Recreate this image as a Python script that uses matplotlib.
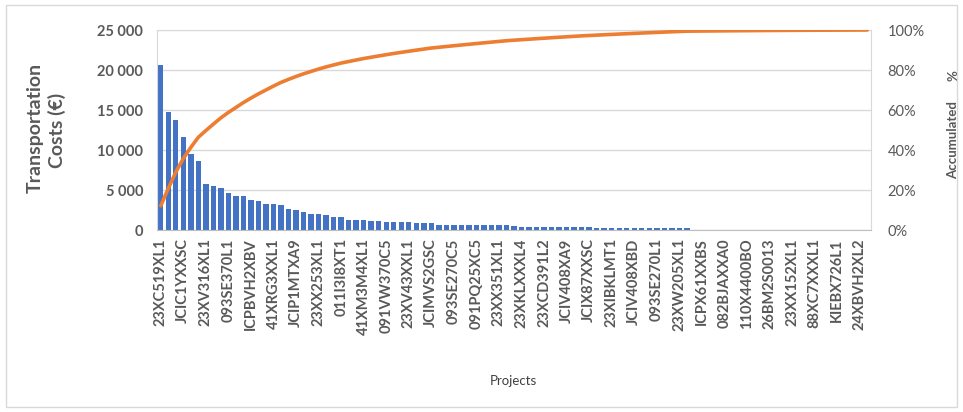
import numpy as np
import matplotlib
matplotlib.use("Agg")
import matplotlib.pyplot as plt
from matplotlib.patches import Rectangle

plt.rcParams['font.family'] = ['Lato', 'DejaVu Sans']

# Transportation cost per project (EUR), sorted descending
costs = [
    20600, 14700, 13800, 11600, 9500, 8600, 5700, 5500, 5300, 4600,
    4200, 4200, 3800, 3600, 3300, 3300, 3100,
    2600, 2450, 2250, 2050, 2000, 1850, 1650, 1600, 1300, 1300, 1250,
    1100, 1100, 1050, 1050,
    950, 950, 920, 900, 900,
    650, 650, 640, 630, 620, 620, 610, 600, 600, 590,
    440, 430, 430, 420, 420, 410, 400, 400, 390, 380,
    320, 310, 310, 300, 300, 290, 290, 280, 280, 270, 270, 260, 260, 250,
    60, 60, 60, 55, 55, 55, 50, 50, 50, 45, 45, 45, 40, 40, 40,
    35, 35, 30, 30, 30, 25, 25, 20, 20,
]

# Project codes shown on the category axis (every third project)
project_labels = [
    "23XC519XL1", "JCIC1YXXSC", "23XV316XL1", "093SE370L1", "ICPBVH2XBV",
    "41XRG3XXL1", "JCIP1MTXA9", "23XX253XL1", "011I3I8XT1", "41XM3M4XL1",
    "091VW370C5", "23XV43XXL1", "JCIMVS2GSC", "093SE270C5", "091PQ25XC5",
    "23XX351XL1", "23XKLXXXL4", "23XCD391L2", "JCIV408XA9", "JCIX87XXSC",
    "23XIBKLMT1", "JCIV408XBD", "093SE270L1", "23XW205XL1", "ICPX61XXBS",
    "082BJAXXA0", "110X4400BO", "26BM2S0013", "23XX152XL1", "88XC7XXXL1",
    "KIEBX726L1", "24XBVH2XL2",
]

cost_ticks = [0, 5000, 10000, 15000, 20000, 25000]
pct_ticks = [0, 0.2, 0.4, 0.6, 0.8, 1.0]

BAR = "#4472C4"
LINE = "#ED7D31"
GRID = "#D9D9D9"
TXT = "#595959"

values = np.array(costs, dtype=float)
x = np.arange(len(values))
cum_share = np.cumsum(values) / values.sum()

W, H = 963, 412
fig = plt.figure(figsize=(W / 100, H / 100), dpi=100)
fig.patch.set_facecolor("white")
fig.patches.append(Rectangle((6 / W, 5 / H), 951 / W, 402 / H, transform=fig.transFigure,
                             fill=False, edgecolor=GRID, lw=1))

left, right, top, bottom = 157, 871, 30, 230
ax = fig.add_axes([left / W, 1 - bottom / H, (right - left) / W, (bottom - top) / H])
ax.bar(x, values, width=0.72, color=BAR, zorder=2)
ax.set_xlim(-0.5, len(values) - 0.5)
ax.set_ylim(0, 25000)
ax.set_yticks(cost_ticks)
ax.set_yticklabels([f"{v:,}".replace(",", " ") for v in cost_ticks],
                   fontsize=10.5, fontweight="bold", color=TXT)
ax.yaxis.grid(True, color=GRID, lw=1, zorder=0)
ax.set_axisbelow(True)
ax.tick_params(axis="y", length=0, pad=10)

label_pos = np.arange(0, len(values), 3)[:len(project_labels)]
ax.set_xticks(label_pos)
ax.set_xticklabels(project_labels, rotation=90, fontsize=10.5, fontweight="bold", color=TXT)
ax.tick_params(axis="x", length=0, pad=6)

for s in ("left", "right", "top"):
    ax.spines[s].set_color(GRID)
ax.spines["bottom"].set_color("#BFBFBF")

ax2 = ax.twinx()
ax2.plot(x, cum_share, color=LINE, lw=2.6, zorder=3, solid_capstyle="round")
ax2.set_ylim(0, 1)
ax2.set_yticks(pct_ticks)
ax2.set_yticklabels([f"{int(round(p * 100))}%" for p in pct_ticks], fontsize=10.5, color=TXT)
ax2.tick_params(axis="y", length=0, pad=12)
for s in ("left", "right", "top", "bottom"):
    ax2.spines[s].set_visible(False)

fig.text(35 / W, 1 - 128 / H, "Transportation", rotation=90, ha="center", va="center",
         fontsize=14, fontweight="bold", color=TXT)
fig.text(57 / W, 1 - 130 / H, "Costs (€)", rotation=90, ha="center", va="center",
         fontsize=14, fontweight="bold", color=TXT)
fig.text(953 / W, 1 - 140 / H, "Accumulated", rotation=90, ha="center", va="center",
         fontsize=9.5, fontweight="bold", color=TXT)
fig.text(953 / W, 1 - 76 / H, "%", rotation=90, ha="center", va="center",
         fontsize=9.5, fontweight="bold", color=TXT)
fig.text(513 / W, 1 - 381 / H, "Projects", ha="center", va="center", fontsize=9.5, color="#404040")

fig.savefig("out.png", dpi=100, facecolor="white")
